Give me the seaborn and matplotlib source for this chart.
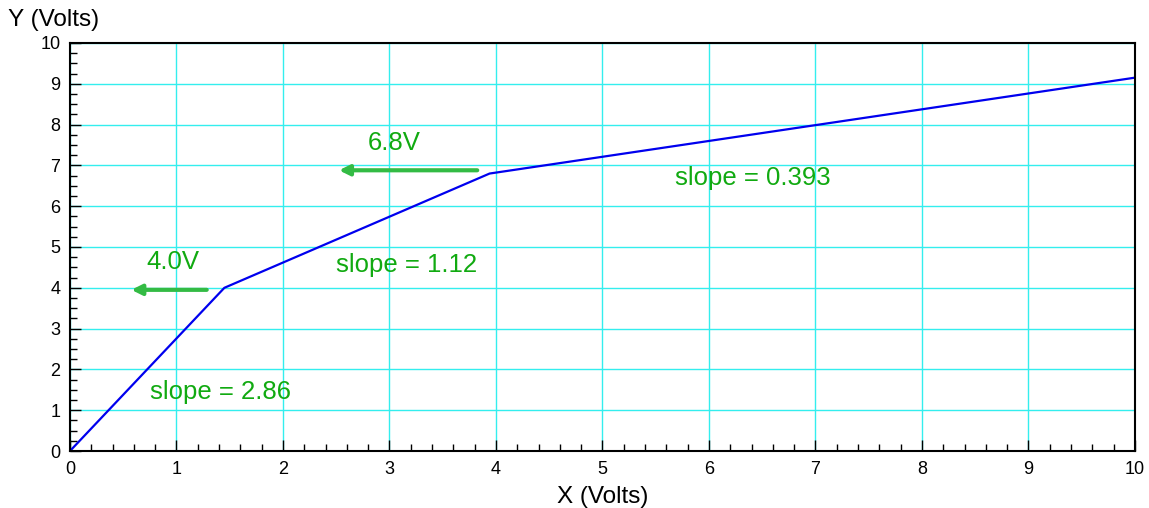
import pandas as pd
import seaborn as sns
import matplotlib.pyplot as plt
from matplotlib.ticker import MultipleLocator

# Puntos de quiebre de la curva
x_volts = [0.0, 1.45, 3.94, 10.0]
y_volts = [0.0, 4.0, 6.8, 9.15]

# Etiquetas de pendiente
slope_labels = ['slope = 2.86', 'slope = 1.12', 'slope = 0.393']
slope_x = [1.41, 3.16, 6.41]
slope_y = [1.45, 4.55, 6.7]

# Flechas de nivel
level_labels = ['4.0V', '6.8V']
level_y = [3.95, 6.88]
arrow_from = [1.31, 3.85]
arrow_to = [0.55, 2.5]
label_x = [0.97, 3.04]
label_y = [4.62, 7.55]

df = pd.DataFrame({'x': x_volts, 'y': y_volts})

sns.set_style('white')
plt.rcParams['font.family'] = ['Liberation Sans', 'DejaVu Sans']
plt.rcParams['text.color'] = 'black'
plt.rcParams['axes.labelcolor'] = 'black'
plt.rcParams['xtick.color'] = 'black'
plt.rcParams['ytick.color'] = 'black'

fig = plt.figure(figsize=(11.49, 5.08), dpi=100)
ax = fig.add_axes([0.0609, 0.1122, 0.9269, 0.8032])

sns.lineplot(data=df, x='x', y='y', color='#0000ee', linewidth=1.6, ax=ax)

ax.set_xlim(0, 10)
ax.set_ylim(0, 10)
ax.xaxis.set_major_locator(MultipleLocator(1))
ax.xaxis.set_minor_locator(MultipleLocator(0.2))
ax.yaxis.set_major_locator(MultipleLocator(1))
ax.yaxis.set_minor_locator(MultipleLocator(0.25))
ax.grid(True, which='major', color='#33eeee', linewidth=1.0)
ax.grid(False, which='minor')
ax.set_axisbelow(True)
ax.tick_params(which='both', direction='in', bottom=True, left=True, top=False, right=False,
               color='black', labelcolor='black', width=1.0)
ax.tick_params(which='major', length=8, labelsize=13, pad=7)
ax.tick_params(which='minor', length=5)
for s in ax.spines.values():
    s.set_color('black')
    s.set_linewidth(1.5)

ax.set_xlabel('X (Volts)', fontsize=17.5, labelpad=6, color='black')
ax.set_ylabel('')
fig.text(0.007, 0.96, 'Y (Volts)', fontsize=17.5, ha='left', va='center', color='black')

for t, sx, sy in zip(slope_labels, slope_x, slope_y):
    ax.text(sx, sy, t, color='#11aa11', fontsize=18.5, ha='center', va='center')

for t, ly, a0, a1, tx, ty in zip(level_labels, level_y, arrow_from, arrow_to, label_x, label_y):
    ax.annotate('', xy=(a1, ly), xytext=(a0, ly),
                arrowprops=dict(arrowstyle='-|>', color='#33bb44', lw=3, mutation_scale=15))
    ax.text(tx, ty, t, color='#11aa11', fontsize=18.5, ha='center', va='center')

fig.savefig('out.png', dpi=100)
